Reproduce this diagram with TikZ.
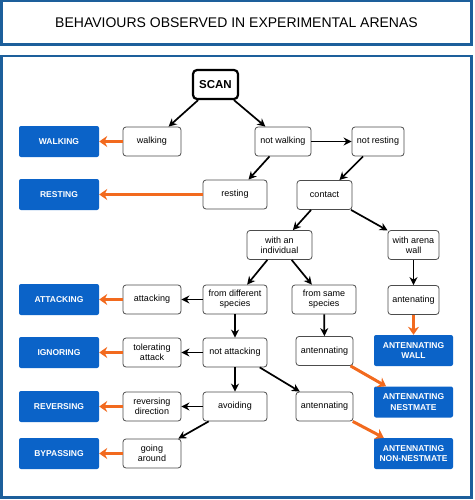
\documentclass[tikz,border=0pt]{standalone}
\usepackage{fontspec}
\setmainfont{Liberation Sans}
\usetikzlibrary{arrows.meta}
\definecolor{frameblue}{HTML}{1D5F9B}
\definecolor{boxblue}{HTML}{0B63C8}
\definecolor{hitorange}{HTML}{F26A1E}
\tikzset{s/.style={draw=black!70,fill=white,rounded corners=3pt,line width=0.8pt,align=center,minimum width=58pt,minimum height=29pt,inner sep=1pt,font=\fontsize{9}{10}\selectfont},
 b/.style={fill=boxblue,text=white,rounded corners=2pt,align=center,minimum width=80pt,minimum height=31pt,inner sep=1pt,font=\bfseries\fontsize{8.5}{10.5}\selectfont},
 flow/.style={-{Stealth[length=8pt,width=8pt]},line width=1.7pt},
 hit/.style={-{Stealth[length=8pt,width=11pt]},line width=3pt,draw=hitorange},
 frame/.style={draw=frameblue,line width=2.5pt,minimum width=470pt}}
\begin{document}
\begin{tikzpicture}[x=1pt,y=-1pt]
\useasboundingbox (0,0) rectangle (474,500);
\node[frame,minimum height=43.5pt](title) at (236.5,23){\fontsize{14}{16}\selectfont BEHAVIOURS OBSERVED IN EXPERIMENTAL ARENAS};
\node[frame,minimum height=441.5pt](arena) at (236.5,276.75){};
% scan and first choices
\node[draw,line width=2.2pt,rounded corners=4pt,minimum width=45pt,minimum height=29pt,font=\bfseries\fontsize{11.5}{13}\selectfont](scan) at (215.5,84.5){SCAN};
\node[s](walk) at (152,141.5){walking};
\node[s,minimum width=56pt](nwalk) at (283,141.5){not walking};
\node[s,minimum width=52pt](nrest) at (378,141.5){not resting};
\node[s,minimum width=64pt](rest) at (235,194.5){resting};
\node[s,minimum width=55pt](cont) at (324.5,195){contact};
\node[s,minimum width=65pt](indiv) at (279.5,245){with an\\individual};
\node[s,minimum width=51pt](wall) at (413.5,245){with arena\\wall};
\node[s,minimum width=64pt](diff) at (235,299.5){from different\\species};
\node[s,minimum width=64pt](same) at (324,299.5){from same\\species};
\node[s,minimum width=51pt](antw) at (413.5,300){antenating};
\node[s](att) at (152,299.5){attacking};
\node[s,minimum width=64pt](natt) at (235,352.5){not attacking};
\node[s](tol) at (152,352.5){tolerating\\attack};
\node[s,minimum width=57pt](antn) at (324.5,351){antennating};
\node[s,minimum width=64pt](avoid) at (235,406.5){avoiding};
\node[s](rev) at (152,406.5){reversing\\direction};
\node[s,minimum width=57pt](antx) at (324.5,406.5){antennating};
\node[s](go) at (152,453.5){going\\around};
% outcomes
\node[b](WALK) at (59,141.5){WALKING};
\node[b](REST) at (59,194.5){RESTING};
\node[b](ATT) at (59,299.5){ATTACKING};
\node[b](IGN) at (59,352.5){IGNORING};
\node[b](REV) at (59,406.5){REVERSING};
\node[b](BYP) at (59,453.5){BYPASSING};
\node[b,minimum width=79pt](AW) at (413.5,350.5){ANTENNATING\\WALL};
\node[b,minimum width=79pt](AN) at (413.5,402){ANTENNATING\\NESTMATE};
\node[b,minimum width=79pt](ANN) at (413.5,453.5){ANTENNATING\\NON-NESTMATE};
% decisions
\draw[flow](scan)--(walk);\draw[flow](scan)--(nwalk);
\draw[flow](nwalk)--(nrest);\draw[flow](nwalk)--(rest);
\draw[flow](nrest)--(cont);
\draw[flow](cont)--(indiv);\draw[flow](cont)--(wall);
\draw[flow](indiv)--(diff);\draw[flow](indiv)--(same);
\draw[flow](wall)--(antw);
\draw[flow](diff)--(att);\draw[flow](diff)--(natt);
\draw[flow](same)--(antn);
\draw[flow](natt)--(tol);\draw[flow](natt)--(avoid);\draw[flow](natt)--(antx);
\draw[flow](avoid)--(rev);\draw[flow](avoid)--(go);
% results
\draw[hit](walk)--(WALK);\draw[hit](rest)--(REST);
\draw[hit](att)--(ATT);\draw[hit](tol)--(IGN);
\draw[hit](rev)--(REV);\draw[hit](go)--(BYP);
\draw[hit](antw)--(AW);\draw[hit](antn)--(AN);\draw[hit](antx)--(ANN);
\end{tikzpicture}
\end{document}
